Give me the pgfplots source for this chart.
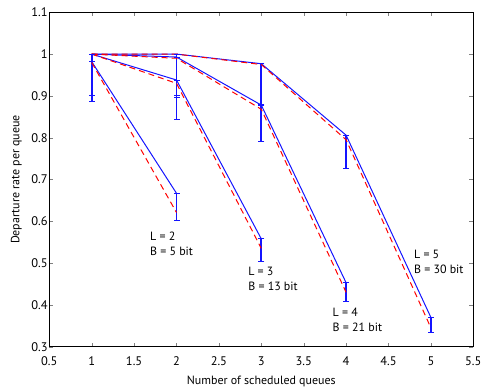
\documentclass[border=0pt]{standalone}
\usepackage{fontspec}
\setmainfont{PT Sans}
\usepackage{pgfplots}
\pgfplotsset{compat=1.18}
\definecolor{mblue}{RGB}{20,20,255}
\begin{document}
\fontsize{12}{14}\selectfont
\begin{tikzpicture}
\begin{axis}[
  scale only axis,
  width=424bp, height=334.4bp,
  xmin=0.5, xmax=5.5, ymin=0.3, ymax=1.1,
  xtick={0.5,1,...,5.5}, ytick={0.3,0.4,...,1.1},
  xticklabels={0.5,1,1.5,2,2.5,3,3.5,4,4.5,5,5.5},
  yticklabels={0.3,0.4,0.5,0.6,0.7,0.8,0.9,1,1.1},
  tick align=inside, tick pos=both,
  major tick length=4bp,
  /pgf/number format/assume math mode=true,
  xlabel={Number of scheduled queues},
  ylabel={Departure rate per queue},
  xlabel style={yshift=-2bp},
  ylabel style={yshift=4bp},
  xticklabel style={yshift=-6bp},
  yticklabel style={inner sep=1.5bp},
  every tick label/.append style={font=\fontsize{12.5}{14}\selectfont},
  label style={font=\fontsize{12}{14}\selectfont},
  axis line style={line width=0.6pt},
  clip=false,
  unbounded coords=jump,
]
\pgfplotsset{
  redline/.style={red, line width=1pt, no markers, dash pattern=on 6bp off 4bp},
  errbar/.style={mblue, line width=1.7pt, mark=-, mark size=3bp, mark options={solid, line width=1pt, mblue}, forget plot},
}
% error bars (top = mean, bottom = lower bound)
\addplot[errbar] coordinates {
  (1,0.982) (1,0.886) (1,nan)
  (1,1.0) (1,0.9) (1,nan)
  (2,0.667) (2,0.601) (2,nan)
  (2,0.938) (2,0.895) (2,nan)
  (2,0.993) (2,0.844) (2,nan)
  (2,1.0) (2,0.9) (2,nan)
  (3,0.558) (3,0.503) (3,nan)
  (3,0.878) (3,0.79) (3,nan)
  (3,0.977) (3,0.88) (3,nan)
  (4,0.453) (4,0.408) (4,nan)
  (4,0.806) (4,0.726) (4,nan)
  (5,0.370) (5,0.334)
};
% measured means (blue)
\addplot[mblue, line width=1pt, no markers] coordinates {(1,0.982) (2,0.667)};
\addplot[mblue, line width=1pt, no markers] coordinates {(1,1.0) (2,0.938) (3,0.558)};
\addplot[mblue, line width=1pt, no markers] coordinates {(1,1.0) (2,0.993) (3,0.878) (4,0.453)};
\addplot[mblue, line width=1pt, no markers] coordinates {(1,1.0) (2,1.0) (3,0.977) (4,0.806) (5,0.370)};
% theory (red dashed)
\addplot[redline] coordinates {(1,0.98) (2,0.621)};
\addplot[redline] coordinates {(1,1.0) (2,0.93) (3,0.535)};
\addplot[redline] coordinates {(1,1.0) (2,0.99) (3,0.868) (4,0.43)};
\addplot[redline] coordinates {(1,1.0) (2,1.0) (3,0.975) (4,0.795) (5,0.345)};

\node[anchor=west, align=left, inner sep=0pt] at (axis cs:1.687,0.545) {L = 2\\[1bp]B = 5 bit};
\node[anchor=west, align=left, inner sep=0pt] at (axis cs:2.845,0.462) {L = 3\\[1bp]B = 13 bit};
\node[anchor=west, align=left, inner sep=0pt] at (axis cs:3.84,0.365) {L = 4\\[1bp]B = 21 bit};
\node[anchor=west, align=left, inner sep=0pt] at (axis cs:4.80,0.502) {L = 5\\[1bp]B = 30 bit};
\end{axis}
\path (current axis.south west) ++(-49.3bp,-45.3bp) coordinate (bbl);
\path (current axis.north east) ++(17.7bp,12.3bp) coordinate (bbr);
\path (bbl) rectangle (bbr);
\end{tikzpicture}
\end{document}
